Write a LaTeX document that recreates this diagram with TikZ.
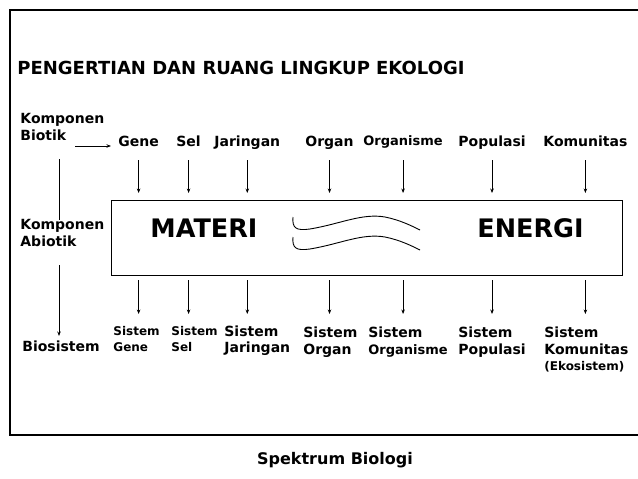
\documentclass[tikz,border=0pt]{standalone}
\usepackage{fontspec}
\setmainfont{DejaVu Sans}
\usetikzlibrary{arrows.meta}
\begin{document}
\begin{tikzpicture}[x=1pt,y=-1pt,line width=0.8pt,
  lab/.style={inner sep=0pt,anchor=base west,align=left,font=\bfseries\fontsize{14}{17}\selectfont},
  labs/.style={lab,font=\bfseries\fontsize{12}{16}\selectfont},
  labm/.style={lab,font=\bfseries\fontsize{13}{16}\selectfont},
  big/.style={inner sep=0pt,anchor=base west,font=\bfseries\fontsize{25.5}{30}\selectfont},
  arr/.style={-{Stealth[length=4.5pt,width=3.5pt]},line width=0.8pt},
  wave/.style={line width=0.9pt}]
\useasboundingbox (0,0) rectangle (638,479);
% outer frame (right side outside the picture)
\draw[line width=1.3pt] (638,10) -- (10,10) -- (10,435) -- (638,435);
% title
\node[lab,font=\bfseries\fontsize{18}{21}\selectfont] (title) at (17,74) {PENGERTIAN DAN RUANG LINGKUP EKOLOGI};
% left labels (base anchor = baseline of last line)
\node[lab] (biotik) at (20,140) {Komponen\\Biotik};
\node[lab] (abiotik) at (20,246) {Komponen\\Abiotik};
\node[lab] (biosis) at (22,351) {Biosistem};
% top labels
\node[lab] (gene) at (118,146) {Gene};
\node[lab] (sel) at (176,146) {Sel};
\node[lab] (jar) at (214,146) {Jaringan};
\node[lab] (organ) at (305,146) {Organ};
\node[labm] (orgm) at (363,145) {Organisme};
\node[lab] (pop) at (458,146) {Populasi};
\node[lab] (kom) at (543,146) {Komunitas};
% central box
\node[draw,line width=1pt,inner sep=0pt,minimum width=511pt,minimum height=75pt,anchor=north west] (box) at (111,200) {};
\node[big] (materi) at (150,237) {MATERI};
\node[big] (energi) at (477,237) {ENERGI};
\draw[wave] (293,217) .. controls (292,228) and (296,231) .. (310,229) .. controls (340,224) and (362,213) .. (385,217) .. controls (400,220) and (412,226) .. (420,230);
\draw[wave] (293,237) .. controls (292,248) and (296,251) .. (310,249) .. controls (340,244) and (362,233) .. (385,237) .. controls (400,240) and (412,246) .. (420,250);
% bottom labels
\node[labs] (sgene) at (113,351) {Sistem\\Gene};
\node[labs] (ssel) at (171,351) {Sistem\\Sel};
\node[lab,font=\bfseries\fontsize{14}{16}\selectfont] (sjar) at (224,352) {Sistem\\Jaringan};
\node[lab] (sorgan) at (303,354) {Sistem\\Organ};
\node[lab] (sorgm) at (368,354) {Sistem\\{\fontsize{13}{16}\selectfont Organisme}};
\node[lab] (spop) at (458,354) {Sistem\\Populasi};
\node[lab] (skom) at (544,370) {Sistem\\Komunitas\\[-1pt]{\fontsize{12}{16}\selectfont (Ekosistem)}};
% caption
\node[lab,font=\bfseries\fontsize{16}{19}\selectfont,anchor=base] (cap) at (335,464) {Spektrum Biologi};
% helper coordinates
\coordinate (tt) at (0,160);
\coordinate (tb) at (0,193);
\coordinate (bt) at (0,280);
\coordinate (bb) at (0,314);
\coordinate (ha) at (75,146);
\coordinate (hb) at (111,146);
\coordinate (v1) at (59,159);
\coordinate (v2) at (59,220);
\coordinate (v3) at (59,265);
\coordinate (v4) at (59,336);
% connectors
\draw[arr] (ha) -- (hb);
\draw (v1) -- (v2);
\draw[arr] (v3) -- (v4);
\foreach \n in {gene,sel,jar,organ,orgm,pop,kom}{
  \draw[arr] (\n.center |- tt) -- (\n.center |- tb);
  \draw[arr] (\n.center |- bt) -- (\n.center |- bb);
}
\end{tikzpicture}
\end{document}
